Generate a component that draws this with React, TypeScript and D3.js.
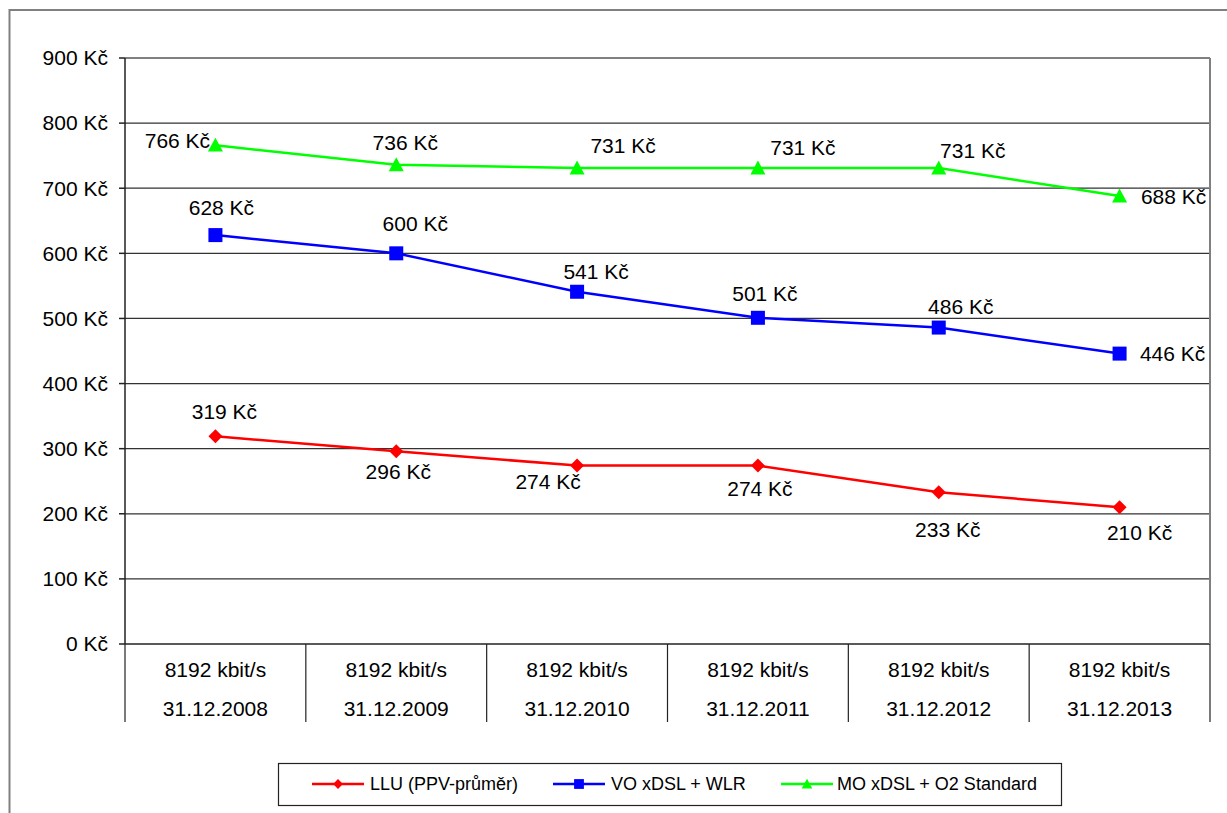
import React from "react";
import * as d3 from "d3";

const categories = ["8192 kbit/s|31.12.2008", "8192 kbit/s|31.12.2009", "8192 kbit/s|31.12.2010", "8192 kbit/s|31.12.2011", "8192 kbit/s|31.12.2012", "8192 kbit/s|31.12.2013"];
const lluValues = [319, 296, 274, 274, 233, 210];
const voValues = [628, 600, 541, 501, 486, 446];
const moValues = [766, 736, 731, 731, 731, 688];
const yTicks = [0, 100, 200, 300, 400, 500, 600, 700, 800, 900];
const seriesNames = ["LLU (PPV-průměr)", "VO xDSL + WLR", "MO xDSL + O2 Standard"];

// label offsets (dx, dy) from point, label anchor middle
const lluLabelOff = [[9, -25], [2, 20], [-29, 16], [2, 23], [9, 37], [20, 25]];
const voLabelOff = [[6, -27], [19, -30], [19, -20], [7, -24], [22, -21], [53, 0]];
const moLabelOff = [[-38, -5], [9, -22], [46, -22], [45, -20], [34, -17], [54, 1]];

const W = 1227, H = 813;
const left = 125, right = 1210, top = 58, bottom = 644;
const FONT = "'Liberation Sans', Arial, sans-serif";
const FS = 21;

export default function App() {
  const x = d3.scaleBand<number>().domain(d3.range(categories.length)).range([left, right]).padding(0);
  const y = d3.scaleLinear().domain([0, 900]).range([bottom, top]);
  const cx = (i: number) => (x(i) as number) + x.bandwidth() / 2;
  const line = d3.line<number>().x((_, i) => cx(i)).y((v) => y(v));

  const series = [
    { name: seriesNames[0], values: lluValues, color: "#ff0000", marker: "diamond", off: lluLabelOff },
    { name: seriesNames[1], values: voValues, color: "#0000ff", marker: "square", off: voLabelOff },
    { name: seriesNames[2], values: moValues, color: "#00ff00", marker: "triangle", off: moLabelOff },
  ];

  const marker = (type: string, px: number, py: number, color: string, key: any, scale = 1) => {
    if (type === "diamond") {
      const s = 7 * scale;
      return <path key={key} d={`M${px},${py - s}L${px + s},${py}L${px},${py + s}L${px - s},${py}Z`} fill={color} />;
    }
    if (type === "square") {
      const s = 7 * scale;
      return <rect key={key} x={px - s} y={py - s} width={2 * s} height={2 * s} fill={color} />;
    }
    const s = 7.5 * scale;
    return <path key={key} d={`M${px},${py - s}L${px + s},${py + s * 0.85}L${px - s},${py + s * 0.85}Z`} fill={color} />;
  };

  const legendItems = [
    { x0: 312, tx: 370 },
    { x0: 553, tx: 611 },
    { x0: 781, tx: 837 },
  ];

  return (
    <svg width={W} height={H} style={{ position: "absolute", left: 0, top: 0, background: "#fff" }} fontFamily={FONT}>
      <defs>
        <clipPath id="plotclip">
          <rect x={0} y={0} width={right} height={H} />
        </clipPath>
      </defs>
      <rect x={0} y={0} width={W} height={H} fill="#fff" />
      {/* outer border */}
      <path d={`M9.5,${H}V10H${W}`} fill="none" stroke="#808080" strokeWidth={2} />

      {/* gridlines */}
      {yTicks.filter((t) => t > 0).map((t) => (
        <line key={t} x1={left} x2={right} y1={y(t)} y2={y(t)} stroke={t === 900 ? "#808080" : "#333"} strokeWidth={t === 900 ? 2 : 1.2} />
      ))}
      {/* y axis */}
      <line x1={left} x2={left} y1={top} y2={bottom} stroke="#222" strokeWidth={1.5} />
      {yTicks.map((t) => (
        <g key={"yt" + t}>
          <line x1={left - 6} x2={left} y1={y(t)} y2={y(t)} stroke="#222" strokeWidth={1.5} />
          <text x={108} y={y(t)} dy="0.35em" textAnchor="end" fontSize={FS} fill="#000">{`${t} Kč`}</text>
        </g>
      ))}
      {/* x axis */}
      <line x1={left} x2={right} y1={bottom} y2={bottom} stroke="#222" strokeWidth={1.5} />
      {d3.range(categories.length + 1).map((i) => {
        const xx = i < categories.length ? (x(i) as number) : right;
        return <line key={"xs" + i} x1={xx} x2={xx} y1={bottom} y2={722} stroke="#222" strokeWidth={1.2} />;
      })}
      {categories.map((c, i) => {
        const [a, b] = c.split("|");
        return (
          <g key={"xl" + i}>
            <text x={cx(i)} y={670} dy="0.35em" textAnchor="middle" fontSize={FS}>{a}</text>
            <text x={cx(i)} y={709} dy="0.35em" textAnchor="middle" fontSize={FS}>{b}</text>
          </g>
        );
      })}

      {/* series */}
      {series.map((s, si) => (
        <g key={"s" + si} clipPath="url(#plotclip)">
          <path d={line(s.values) as string} fill="none" stroke={s.color} strokeWidth={2.5} />
          {s.values.map((v, i) => marker(s.marker, cx(i), y(v), s.color, "m" + si + i))}
          {s.values.map((v, i) => (
            <text key={"l" + si + i} x={cx(i) + s.off[i][0]} y={y(v) + s.off[i][1]} dy="0.35em" textAnchor="middle" fontSize={FS}>{`${v} Kč`}</text>
          ))}
        </g>
      ))}
      {/* right border of plot */}
      <line x1={right} x2={right} y1={top} y2={bottom} stroke="#808080" strokeWidth={2} />

      {/* legend */}
      <rect x={278.5} y={763.5} width={783} height={42} fill="#fff" stroke="#222" strokeWidth={1.2} />
      {series.map((s, si) => {
        const li = legendItems[si];
        return (
          <g key={"lg" + si}>
            <line x1={li.x0} x2={li.x0 + 52} y1={784} y2={784} stroke={s.color} strokeWidth={2.5} />
            {marker(s.marker, li.x0 + 26, 784, s.color, "lm" + si, 0.7)}
            <text x={li.tx} y={784} dy="0.35em" fontSize={18}>{s.name}</text>
          </g>
        );
      })}
    </svg>
  );
}
